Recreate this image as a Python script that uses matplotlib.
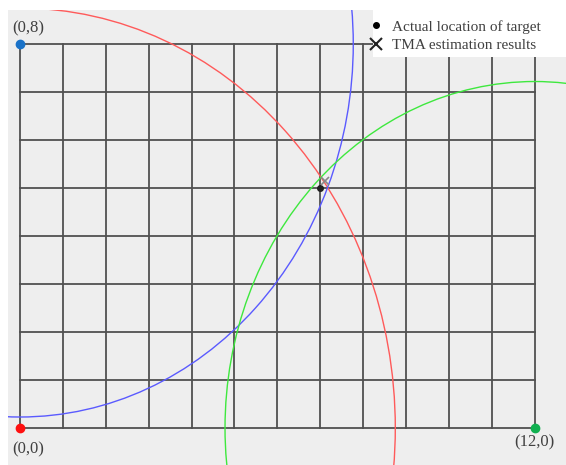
import matplotlib.pyplot as plt
from matplotlib.patches import Circle, Rectangle
from matplotlib.lines import Line2D

# grid extent (units)
grid_w = 12
grid_h = 8

# observer stations and the measured ranges to the target
stations = [(0, 0), (0, 8), (12, 0)]
station_labels = ["(0,0)", "(0,8)", "(12,0)"]
station_colors = ["#ff1010", "#1a72c8", "#10b050"]
ranges = [8.75, 7.77, 7.22]
range_colors = ["#ff5a5a", "#5a5aff", "#3ee83e"]

target = (7.0, 5.0)
estimate = (7.11, 5.15)

plt.rcParams['font.family'] = ['Liberation Serif', 'DejaVu Serif']

fig = plt.figure(figsize=(5.66, 4.65), dpi=100)
fig.patch.set_facecolor("white")
ax = fig.add_axes([8 / 566, 0, 1 - 8 / 566, 1 - 10 / 465])
ax.set_facecolor("#eeeeee")
ax.set_xlim(-0.28, 12.73)
ax.set_ylim(-0.77, 8.71)
ax.set_xticks([])
ax.set_yticks([])
for s in ax.spines.values():
    s.set_visible(False)

for i in range(grid_w + 1):
    ax.plot([i, i], [0, grid_h], color="#505050", lw=1.3, zorder=1)
for j in range(grid_h + 1):
    ax.plot([0, grid_w], [j, j], color="#505050", lw=1.3, zorder=1)

for (cx, cy), r, c in zip(stations, ranges, range_colors):
    ax.add_patch(Circle((cx, cy), r, fill=False, ec=c, lw=1.0, zorder=2))

for (cx, cy), c in zip(stations, station_colors):
    ax.plot(cx, cy, "o", color=c, ms=6, zorder=4, clip_on=False)

offsets = [(0, -0.45), (0, 0.32), (-0.2, -0.3)]
for (cx, cy), lab, (dx, dy) in zip(stations, station_labels, offsets):
    ax.text(cx + 0.2 + dx, cy + dy, lab, fontsize=12, color="#404040",
            ha="center", va="center")

ax.plot(*target, "o", color="#202020", ms=4, zorder=5)
ax.plot(*estimate, "x", color="#888888", ms=6, mew=1.2, zorder=5)

# white patch behind the legend (it sits over the corner of the plot)
fig.add_artist(Rectangle((373 / 566, 1 - 57 / 465), 193 / 566, 57 / 465,
                         transform=fig.transFigure, fc="white", ec="none", zorder=3))

handles = [
    Line2D([], [], ls="none", marker="o", color="black", ms=4),
    Line2D([], [], ls="none", marker="x", color="#222222", ms=8, mew=1.5),
]
leg = fig.legend(handles, ["Actual location of target", "TMA estimation results"],
                 loc="upper left", bbox_to_anchor=(373 / 566, 1 - 20 / 465),
                 fontsize=11, frameon=False, handlelength=0.4, handletextpad=0.85,
                 borderpad=0, labelspacing=0.3, borderaxespad=0)
leg.set_zorder(4)
for t in leg.get_texts():
    t.set_color("#404040")

fig.savefig("out.png", dpi=100)
